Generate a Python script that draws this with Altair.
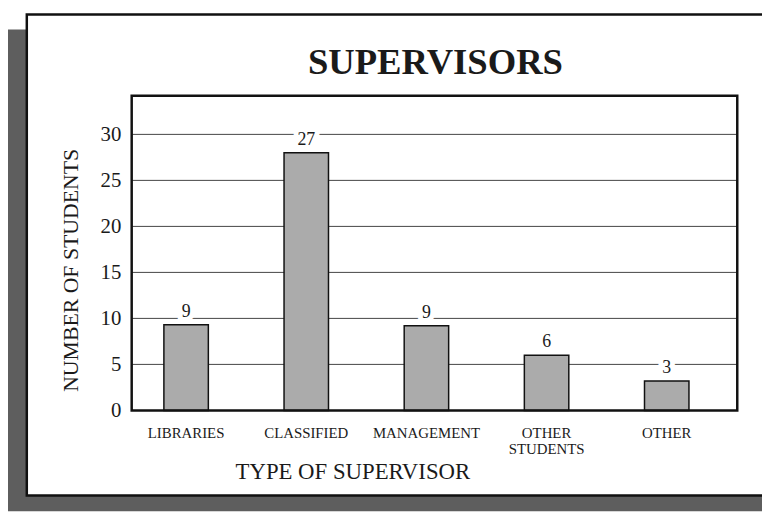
import altair as alt
import pandas as pd

title_text = "SUPERVISORS"
categories = ["LIBRARIES", "CLASSIFIED", "MANAGEMENT", "OTHER STUDENTS", "OTHER"]
bar_heights = [9.3, 28.0, 9.2, 6.0, 3.2]
bar_labels = ["9", "27", "9", "6", "3"]
y_ticks = [0, 5, 10, 15, 20, 25, 30]
grid_values = [5, 10, 15, 20, 25, 30]

FONT = "Liberation Serif"
INK = "#1a1a1a"

df = pd.DataFrame({"type": categories, "students": bar_heights, "label": bar_labels})
grid_df = pd.DataFrame({"g": grid_values})
one = pd.DataFrame({"k": [0]})
title_df = pd.DataFrame({"t": [title_text]})

xscale = alt.Scale(domain=categories, paddingInner=0.63, paddingOuter=0.335, align=0.4)
yscale = alt.Scale(domain=[0, 34.2], nice=False, zero=True)

x_enc = alt.X(
    "type:N",
    sort=categories,
    scale=xscale,
    axis=alt.Axis(
        title="TYPE OF SUPERVISOR",
        labelAngle=0,
        labelFont=FONT,
        labelFontSize=15,
        labelColor=INK,
        labelPadding=15,
        labelLineHeight=17,
        labelExpr="datum.value == 'OTHER STUDENTS' ? ['OTHER', 'STUDENTS'] : datum.value",
        ticks=False,
        tickSize=0,
        domain=False,
        grid=False,
        titleFont=FONT,
        titleFontSize=23,
        titleFontWeight="normal",
        titleColor=INK,
        titleX=223,
        titleY=51,
        zindex=1,
    ),
)

y_enc = alt.Y(
    "students:Q",
    scale=yscale,
    axis=alt.Axis(
        title="NUMBER OF STUDENTS",
        values=y_ticks,
        labelFont=FONT,
        labelFontSize=21,
        labelColor=INK,
        labelPadding=11,
        ticks=False,
        tickSize=0,
        domain=False,
        grid=False,
        titleFont=FONT,
        titleFontSize=22,
        titleFontWeight="normal",
        titleColor=INK,
        titlePadding=18,
        titleY=176,
        zindex=1,
    ),
)

shadow = alt.Chart(one).mark_rect(color="#5e5e5e").encode(
    x=alt.value(-125), x2=alt.value(645), y=alt.value(-67), y2=alt.value(420)
)
frame = alt.Chart(one).mark_rect(fill="white", stroke="#111", strokeWidth=2.5).encode(
    x=alt.value(-106), x2=alt.value(660), y=alt.value(-82), y2=alt.value(404)
)
title = alt.Chart(title_df).mark_text(
    font=FONT, fontSize=37, fontWeight="bold", color=INK, align="center", baseline="alphabetic"
).encode(x=alt.value(307), y=alt.value(-22), text="t:N")
grid = alt.Chart(grid_df).mark_rule(color="#444", strokeWidth=1).encode(
    y=alt.Y("g:Q", scale=yscale)
)
bars = alt.Chart(df).mark_bar(fill="#ababab", stroke="#111", strokeWidth=1.5).encode(
    x=x_enc, y=y_enc
)
halo = alt.Chart(df).mark_text(
    font=FONT, fontSize=18, baseline="bottom", dy=-4, stroke="white", strokeWidth=10, fill="white"
).encode(x=alt.X("type:N", sort=categories, scale=xscale), y=alt.Y("students:Q", scale=yscale), text="label:N")
labels = alt.Chart(df).mark_text(
    font=FONT, fontSize=18, baseline="bottom", dy=-4, color=INK
).encode(x=alt.X("type:N", sort=categories, scale=xscale), y=alt.Y("students:Q", scale=yscale), text="label:N")
border = alt.Chart(one).mark_rect(fill="transparent", stroke="#111", strokeWidth=2.5).encode(
    x=alt.value(0), x2=alt.value("width"), y=alt.value(0), y2=alt.value("height")
)

chart = (
    alt.layer(shadow, frame, title, grid, bars, halo, labels, border)
    .properties(
        width=612,
        height=318,
        autosize=alt.AutoSizeParams(type="none"),
        padding={"left": 125, "top": 86, "right": 25, "bottom": 100},
        background="white",
    )
    .configure_view(strokeWidth=0)
)

chart.save("out.html", embed_options={"renderer": "svg", "actions": False})
